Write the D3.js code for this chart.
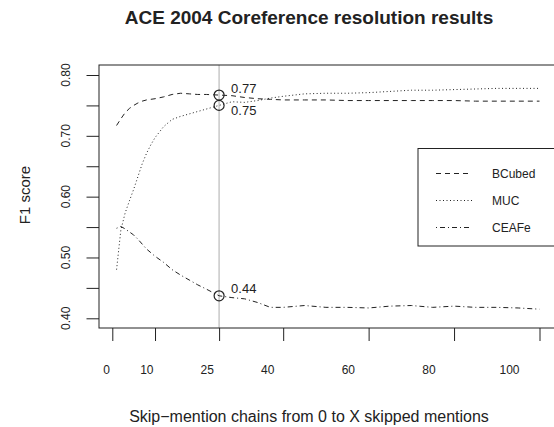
<!DOCTYPE html>
<html>
<head>
<meta charset="utf-8">
<title>ACE 2004 Coreference resolution results</title>
<script src="https://cdn.jsdelivr.net/npm/d3@7"></script>
<style>
body { margin: 0; background: #fff; }
svg { font-family: "Liberation Sans", Arial, sans-serif; }
</style>
</head>
<body>
<script>
  // data
  var skips = [1, 2, 3, 4, 5, 6, 7, 8, 9, 10, 12, 14, 16, 18, 20, 22, 25, 28, 31, 34, 37, 40,
               45, 50, 55, 60, 65, 70, 75, 80, 85, 90, 95, 100];
  var bcubed = [0.717, 0.728, 0.738, 0.745, 0.750, 0.754, 0.757, 0.759, 0.760, 0.761, 0.764, 0.768,
                0.770, 0.769, 0.768, 0.768, 0.767, 0.766, 0.763, 0.761, 0.760, 0.759,
                0.759, 0.759, 0.758, 0.758, 0.758, 0.758, 0.758, 0.758, 0.757, 0.757, 0.757, 0.757];
  var muc = [0.480, 0.545, 0.573, 0.593, 0.612, 0.633, 0.654, 0.671, 0.685, 0.697, 0.715, 0.727,
             0.732, 0.736, 0.740, 0.744, 0.750, 0.756, 0.755, 0.758, 0.762, 0.765,
             0.769, 0.770, 0.770, 0.771, 0.773, 0.775, 0.775, 0.776, 0.777, 0.778, 0.778, 0.778];
  var ceafe = [0.548, 0.551, 0.547, 0.542, 0.537, 0.530, 0.522, 0.514, 0.508, 0.502, 0.492, 0.480,
               0.471, 0.463, 0.455, 0.448, 0.437, 0.434, 0.432, 0.426, 0.418, 0.418,
               0.421, 0.418, 0.418, 0.417, 0.420, 0.421, 0.418, 0.420, 0.418, 0.418, 0.417, 0.415];
  var seriesNames = ["BCubed", "MUC", "CEAFe"];
  var xTicks = [0, 10, 25, 40, 60, 80, 100];
  var yTicks = [0.40, 0.45, 0.50, 0.55, 0.60, 0.65, 0.70, 0.75, 0.80];
  var yLabelTicks = [0.40, 0.50, 0.60, 0.70, 0.80];
  var markedSkip = 25;

  var width = 554, height = 427;
  var box = { left: 99, top: 65, right: 562, bottom: 328 };
  var ink = "#222";

  var svg = d3.select("body").append("svg").attr("width", width).attr("height", height);

  var x = d3.scaleLinear().domain([0, 100]).range([112.3, 539.5]);
  // tick labels sit on their own, slightly narrower scale in the original
  var xLab = d3.scaleLinear().domain([0, 100]).range([106, 509]);
  var y = d3.scaleLinear().domain([0.4, 0.8]).range([318.3, 75]);

  var series = [
    { name: seriesNames[0], values: bcubed, dash: "5,4", labelDy: -2 },
    { name: seriesNames[1], values: muc, dash: "1,2.5", labelDy: 10 },
    { name: seriesNames[2], values: ceafe, dash: "1,3,5,3", labelDy: -3 }
  ];

  // title
  svg.append("text")
    .attr("x", 309).attr("y", 23.5)
    .attr("text-anchor", "middle")
    .attr("font-size", 19).attr("font-weight", "bold")
    .attr("fill", ink)
    .text("ACE 2004 Coreference resolution results");

  // vertical marker
  svg.append("line")
    .attr("x1", x(markedSkip)).attr("x2", x(markedSkip))
    .attr("y1", box.top).attr("y2", box.bottom)
    .attr("stroke", "#c8c8c8").attr("stroke-width", 1.5);

  // box (right side runs off the picture)
  svg.append("rect")
    .attr("x", box.left).attr("y", box.top)
    .attr("width", box.right - box.left).attr("height", box.bottom - box.top)
    .attr("fill", "none").attr("stroke", ink).attr("stroke-width", 1);

  // x axis: ticks, then labels
  var xAxis = svg.append("g")
    .attr("transform", "translate(0," + box.bottom + ")")
    .call(d3.axisBottom(x).tickValues(xTicks).tickSize(13).tickFormat(""));
  xAxis.select(".domain").remove();
  xAxis.selectAll("line").attr("stroke", ink);

  var xLabels = svg.append("g")
    .attr("transform", "translate(0,362)")
    .call(d3.axisBottom(xLab).tickValues(xTicks).tickSize(0));
  xLabels.select(".domain").remove();
  xLabels.selectAll("text").attr("font-size", 12).attr("fill", ink)
    .attr("font-family", "Liberation Sans, Arial, sans-serif");

  // y axis
  var yAxis = svg.append("g")
    .attr("transform", "translate(" + box.left + ",0)")
    .call(d3.axisLeft(y).tickValues(yTicks).tickSize(12.5).tickFormat(""));
  yAxis.select(".domain").remove();
  yAxis.selectAll("line").attr("stroke", ink);

  svg.append("g").selectAll("text")
    .data(yLabelTicks)
    .enter().append("text")
    .attr("transform", function(d) { return "translate(70," + y(d) + ") rotate(-90)"; })
    .attr("text-anchor", "middle")
    .attr("font-size", 12).attr("fill", ink)
    .text(d3.format(".2f"));

  // axis titles
  svg.append("text")
    .attr("x", 309).attr("y", 422)
    .attr("text-anchor", "middle")
    .attr("font-size", 16).attr("fill", ink)
    .text("Skip\u2212mention chains from 0 to X skipped mentions");

  svg.append("text")
    .attr("transform", "translate(30,195) rotate(-90)")
    .attr("text-anchor", "middle")
    .attr("font-size", 15).attr("fill", ink)
    .text("F1 score");

  // lines
  var line = d3.line()
    .x(function(d, i) { return x(skips[i]); })
    .y(function(d) { return y(d); });

  svg.append("g").selectAll("path")
    .data(series)
    .enter().append("path")
    .attr("d", function(s) { return line(s.values); })
    .attr("fill", "none")
    .attr("stroke", ink).attr("stroke-width", 1)
    .attr("stroke-dasharray", function(s) { return s.dash; });

  // marked points at x = 25
  var mi = skips.indexOf(markedSkip);
  var marks = svg.append("g").selectAll("g")
    .data(series)
    .enter().append("g");

  marks.append("circle")
    .attr("cx", x(markedSkip))
    .attr("cy", function(s) { return y(s.values[mi]); })
    .attr("r", 5)
    .attr("fill", "none").attr("stroke", ink).attr("stroke-width", 1.2);

  marks.append("text")
    .attr("x", x(markedSkip) + 12)
    .attr("y", function(s) { return y(s.values[mi]) + s.labelDy; })
    .attr("font-size", 13).attr("fill", ink)
    .text(function(s) { return d3.format(".2f")(s.values[mi]); });

  // legend
  var legend = svg.append("g");
  legend.append("rect")
    .attr("x", 418).attr("y", 148.5)
    .attr("width", 150).attr("height", 97.5)
    .attr("fill", "#fff").attr("stroke", ink).attr("stroke-width", 1);

  var items = legend.selectAll(".item")
    .data(series)
    .enter().append("g")
    .attr("class", "item")
    .attr("transform", function(s, i) { return "translate(0," + (173.5 + i * 27) + ")"; });

  items.append("line")
    .attr("x1", 436).attr("x2", 472)
    .attr("stroke", ink).attr("stroke-width", 1)
    .attr("stroke-dasharray", function(s) { return s.dash; });

  items.append("text")
    .attr("x", 492).attr("dy", "0.35em")
    .attr("font-size", 12).attr("fill", ink)
    .text(function(s) { return s.name; });
</script>
</body>
</html>
